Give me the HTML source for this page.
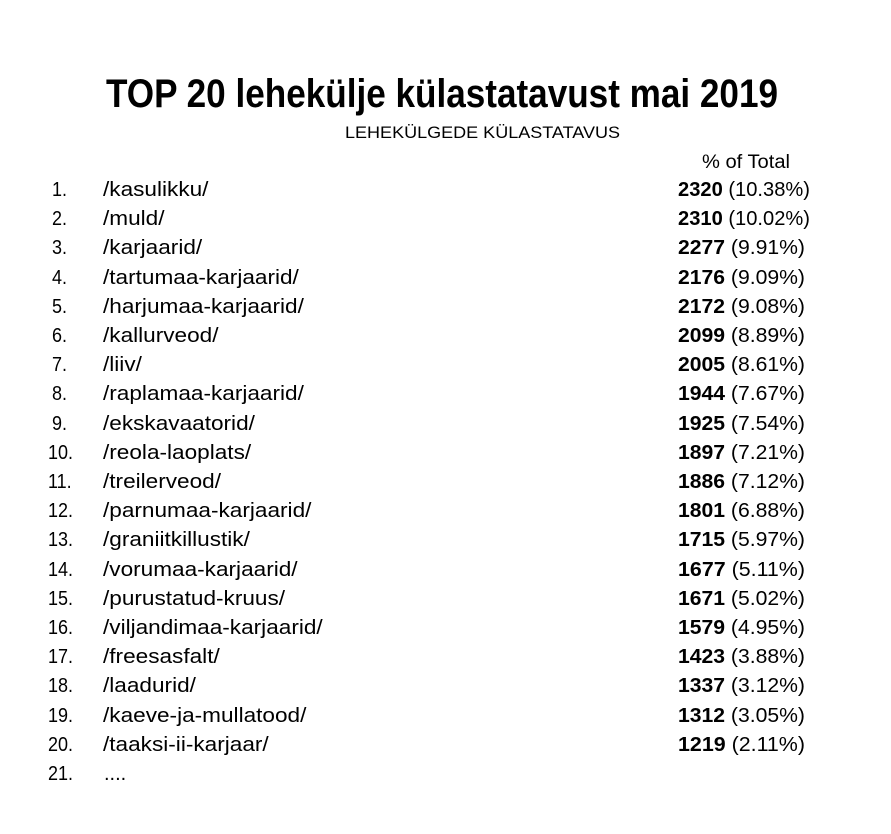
<!DOCTYPE html>
<html><head><meta charset="utf-8"><style>
html,body{margin:0;padding:0;background:#fff;}
svg{display:block;font-family:"Liberation Sans",sans-serif;fill:#000;}
.r{font-size:20px;}
</style></head><body>
<svg width="891" height="834" xmlns="http://www.w3.org/2000/svg">
<text x="106" y="107" font-size="40" font-weight="bold" textLength="672" lengthAdjust="spacingAndGlyphs">TOP 20 lehekülje külastatavust mai 2019</text>
<text x="345" y="138" font-size="17" textLength="275" lengthAdjust="spacingAndGlyphs">LEHEKÜLGEDE KÜLASTATAVUS</text>
<text x="702" y="168" font-size="19" textLength="88" lengthAdjust="spacingAndGlyphs">% of Total</text>
<g class="r">
<text transform="translate(52,196) scale(0.9,1)">1.</text><text transform="translate(103,196) scale(1.13,1)">/kasulikku/</text><text x="678" y="196" textLength="132" lengthAdjust="spacingAndGlyphs"><tspan font-weight="bold">2320</tspan> (10.38%)</text>
<text transform="translate(52,225) scale(0.9,1)">2.</text><text transform="translate(103,225) scale(1.13,1)">/muld/</text><text x="678" y="225" textLength="132" lengthAdjust="spacingAndGlyphs"><tspan font-weight="bold">2310</tspan> (10.02%)</text>
<text transform="translate(52,254) scale(0.9,1)">3.</text><text transform="translate(103,254) scale(1.13,1)">/karjaarid/</text><text x="678" y="254" textLength="127" lengthAdjust="spacingAndGlyphs"><tspan font-weight="bold">2277</tspan> (9.91%)</text>
<text transform="translate(52,284) scale(0.9,1)">4.</text><text transform="translate(103,284) scale(1.13,1)">/tartumaa-karjaarid/</text><text x="678" y="284" textLength="127" lengthAdjust="spacingAndGlyphs"><tspan font-weight="bold">2176</tspan> (9.09%)</text>
<text transform="translate(52,313) scale(0.9,1)">5.</text><text transform="translate(103,313) scale(1.13,1)">/harjumaa-karjaarid/</text><text x="678" y="313" textLength="127" lengthAdjust="spacingAndGlyphs"><tspan font-weight="bold">2172</tspan> (9.08%)</text>
<text transform="translate(52,342) scale(0.9,1)">6.</text><text transform="translate(103,342) scale(1.13,1)">/kallurveod/</text><text x="678" y="342" textLength="127" lengthAdjust="spacingAndGlyphs"><tspan font-weight="bold">2099</tspan> (8.89%)</text>
<text transform="translate(52,371) scale(0.9,1)">7.</text><text transform="translate(103,371) scale(1.13,1)">/liiv/</text><text x="678" y="371" textLength="127" lengthAdjust="spacingAndGlyphs"><tspan font-weight="bold">2005</tspan> (8.61%)</text>
<text transform="translate(52,400) scale(0.9,1)">8.</text><text transform="translate(103,400) scale(1.13,1)">/raplamaa-karjaarid/</text><text x="678" y="400" textLength="127" lengthAdjust="spacingAndGlyphs"><tspan font-weight="bold">1944</tspan> (7.67%)</text>
<text transform="translate(52,430) scale(0.9,1)">9.</text><text transform="translate(103,430) scale(1.13,1)">/ekskavaatorid/</text><text x="678" y="430" textLength="127" lengthAdjust="spacingAndGlyphs"><tspan font-weight="bold">1925</tspan> (7.54%)</text>
<text transform="translate(48,459) scale(0.9,1)">10.</text><text transform="translate(103,459) scale(1.13,1)">/reola-laoplats/</text><text x="678" y="459" textLength="127" lengthAdjust="spacingAndGlyphs"><tspan font-weight="bold">1897</tspan> (7.21%)</text>
<text transform="translate(48,488) scale(0.9,1)">11.</text><text transform="translate(103,488) scale(1.13,1)">/treilerveod/</text><text x="678" y="488" textLength="127" lengthAdjust="spacingAndGlyphs"><tspan font-weight="bold">1886</tspan> (7.12%)</text>
<text transform="translate(48,517) scale(0.9,1)">12.</text><text transform="translate(103,517) scale(1.13,1)">/parnumaa-karjaarid/</text><text x="678" y="517" textLength="127" lengthAdjust="spacingAndGlyphs"><tspan font-weight="bold">1801</tspan> (6.88%)</text>
<text transform="translate(48,546) scale(0.9,1)">13.</text><text transform="translate(103,546) scale(1.13,1)">/graniitkillustik/</text><text x="678" y="546" textLength="127" lengthAdjust="spacingAndGlyphs"><tspan font-weight="bold">1715</tspan> (5.97%)</text>
<text transform="translate(48,576) scale(0.9,1)">14.</text><text transform="translate(103,576) scale(1.13,1)">/vorumaa-karjaarid/</text><text x="678" y="576" textLength="127" lengthAdjust="spacingAndGlyphs"><tspan font-weight="bold">1677</tspan> (5.11%)</text>
<text transform="translate(48,605) scale(0.9,1)">15.</text><text transform="translate(103,605) scale(1.13,1)">/purustatud-kruus/</text><text x="678" y="605" textLength="127" lengthAdjust="spacingAndGlyphs"><tspan font-weight="bold">1671</tspan> (5.02%)</text>
<text transform="translate(48,634) scale(0.9,1)">16.</text><text transform="translate(103,634) scale(1.13,1)">/viljandimaa-karjaarid/</text><text x="678" y="634" textLength="127" lengthAdjust="spacingAndGlyphs"><tspan font-weight="bold">1579</tspan> (4.95%)</text>
<text transform="translate(48,663) scale(0.9,1)">17.</text><text transform="translate(103,663) scale(1.13,1)">/freesasfalt/</text><text x="678" y="663" textLength="127" lengthAdjust="spacingAndGlyphs"><tspan font-weight="bold">1423</tspan> (3.88%)</text>
<text transform="translate(48,692) scale(0.9,1)">18.</text><text transform="translate(103,692) scale(1.13,1)">/laadurid/</text><text x="678" y="692" textLength="127" lengthAdjust="spacingAndGlyphs"><tspan font-weight="bold">1337</tspan> (3.12%)</text>
<text transform="translate(48,722) scale(0.9,1)">19.</text><text transform="translate(103,722) scale(1.13,1)">/kaeve-ja-mullatood/</text><text x="678" y="722" textLength="127" lengthAdjust="spacingAndGlyphs"><tspan font-weight="bold">1312</tspan> (3.05%)</text>
<text transform="translate(48,751) scale(0.9,1)">20.</text><text transform="translate(103,751) scale(1.13,1)">/taaksi-ii-karjaar/</text><text x="678" y="751" textLength="127" lengthAdjust="spacingAndGlyphs"><tspan font-weight="bold">1219</tspan> (2.11%)</text>
<text transform="translate(48,780) scale(0.9,1)">21.</text><text x="104" y="780">....</text>
</g>
</svg>
</body></html>
